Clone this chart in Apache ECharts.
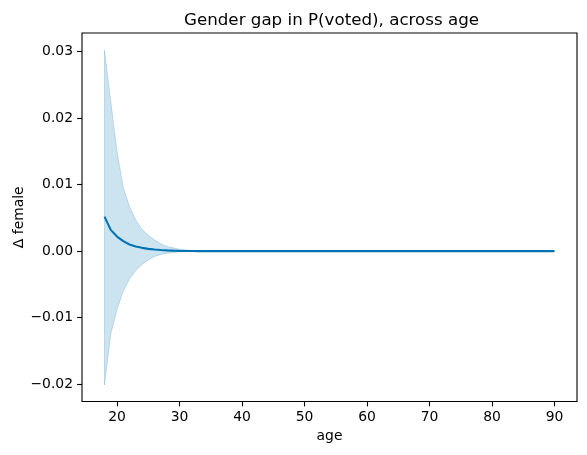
<!DOCTYPE html>
<html>
<head>
<meta charset="utf-8">
<script src="https://cdn.jsdelivr.net/npm/echarts@6/dist/echarts.min.js"></script>
<style>
  html, body { margin: 0; padding: 0; background: #fff; }
  #chart { width: 587px; height: 455px; }
</style>
</head>
<body>
<div id="chart"></div>
<script>
const ages = [18, 19, 20, 21, 22, 23, 24, 25, 26, 27, 28, 29, 30, 31, 32, 33,
  34, 35, 36, 37, 38, 39, 40, 41, 42, 43, 44, 45, 46, 47, 48, 49, 50,
  51, 52, 53, 54, 55, 56, 57, 58, 59, 60, 61, 62, 63, 64, 65, 66, 67,
  68, 69, 70, 71, 72, 73, 74, 75, 76, 77, 78, 79, 80, 81, 82, 83, 84,
  85, 86, 87, 88, 89, 90];
const gapMean = [0.0052, 0.0032, 0.0022, 0.0015, 0.0010, 0.0007, 0.0005, 0.00035,
  0.00025, 0.00017, 0.00012, 0.00008, 0.00005, 0.00003, 0.00002, 0.00001,
  0, 0, 0, 0, 0, 0, 0, 0, 0, 0, 0, 0, 0, 0, 0, 0, 0,
  0, 0, 0, 0, 0, 0, 0, 0, 0, 0, 0, 0, 0, 0, 0, 0, 0,
  0, 0, 0, 0, 0, 0, 0, 0, 0, 0, 0, 0, 0, 0, 0, 0, 0,
  0, 0, 0, 0, 0, 0];
const gapUpper = [0.0302, 0.0225, 0.0150, 0.0096, 0.0067, 0.0047, 0.0033, 0.0024,
  0.0017, 0.0011, 0.0007, 0.0005, 0.0003, 0.0002, 0.0001, 0.00005,
  0, 0, 0, 0, 0, 0, 0, 0, 0, 0, 0, 0, 0, 0, 0, 0, 0,
  0, 0, 0, 0, 0, 0, 0, 0, 0, 0, 0, 0, 0, 0, 0, 0, 0,
  0, 0, 0, 0, 0, 0, 0, 0, 0, 0, 0, 0, 0, 0, 0, 0, 0,
  0, 0, 0, 0, 0, 0];
const gapLower = [-0.0201, -0.0125, -0.0088, -0.0060, -0.0042, -0.0029, -0.0020, -0.0013,
  -0.0008, -0.0005, -0.0003, -0.0002, -0.0001, -0.00006, -0.00003, -0.00001,
  0, 0, 0, 0, 0, 0, 0, 0, 0, 0, 0, 0, 0, 0, 0, 0, 0,
  0, 0, 0, 0, 0, 0, 0, 0, 0, 0, 0, 0, 0, 0, 0, 0, 0,
  0, 0, 0, 0, 0, 0, 0, 0, 0, 0, 0, 0, 0, 0, 0, 0, 0,
  0, 0, 0, 0, 0, 0];
const xTicks = [20, 30, 40, 50, 60, 70, 80, 90];
const yTicks = [-0.02, -0.01, 0, 0.01, 0.02, 0.03];

const lineBlue = "#0173b2";
const bandFill = "rgba(1,115,178,0.2)";
const font = "DejaVu Sans";

const chart = echarts.init(document.getElementById("chart"));

// polygon: upper edge left->right, then lower edge right->left
const renderBand = (params, api) => {
    const pts = [];
    for (let i = 0; i < ages.length; i++) pts.push(api.coord([ages[i], gapUpper[i]]));
    for (let i = ages.length - 1; i >= 0; i--) pts.push(api.coord([ages[i], gapLower[i]]));
    return {
        type: "polygon",
        shape: { points: pts },
        style: { fill: bandFill, stroke: bandFill, lineWidth: 1 },
    };
};

let option = {
    animation: false,
    textStyle: { fontFamily: font },
    title: {
        text: "Gender gap in P(voted), across age",
        left: 179,
        top: 7,
        textStyle: { fontFamily: font, fontSize: 16.7, fontWeight: "normal", color: "#000" },
    },
    grid: {
        left: 82,
        right: 10,
        top: 33,
        bottom: 53.5,
        show: true,
        borderColor: "#000",
        borderWidth: 1.1,
    },
    xAxis: {
        type: "value",
        min: 14.4,
        max: 93.6,
        name: "age",
        nameLocation: "middle",
        nameGap: 28,
        nameMoveOverlap: false,
        nameTextStyle: { fontFamily: font, fontSize: 13.9, color: "#000" },
        axisLine: { show: false, onZero: false },
        splitLine: { show: false },
        axisTick: { show: true, length: 4.9, customValues: xTicks, lineStyle: { color: "#000", width: 1.1 } },
        axisLabel: { customValues: xTicks, margin: 9, fontFamily: font, fontSize: 13.9, color: "#000" },
    },
    yAxis: {
        type: "value",
        min: -0.0226,
        max: 0.0328,
        name: "Δ female",
        nameLocation: "middle",
        nameGap: 56,
        nameMoveOverlap: false,
        nameTextStyle: { fontFamily: font, fontSize: 13.9, color: "#000" },
        axisLine: { show: false, onZero: false },
        splitLine: { show: false },
        axisTick: { show: true, length: 4.9, customValues: yTicks, lineStyle: { color: "#000", width: 1.1 } },
        axisLabel: {
            customValues: yTicks,
            margin: 9,
            fontFamily: font,
            fontSize: 13.9,
            color: "#000",
            formatter: (v) => v.toFixed(2).replace("-", "\u2212"),
        },
    },
    series: [
        {
            type: "custom",
            renderItem: renderBand,
            data: [[ages[0], gapUpper[0]]],
            clip: true,
            silent: true,
            z: 1,
        },
        {
            type: "line",
            symbol: "none",
            data: ages.map((a, i) => [a, gapMean[i]]),
            lineStyle: { color: lineBlue, width: 2.1 },
            z: 3,
        },
    ],
};
chart.setOption(option);
</script>
</body>
</html>
